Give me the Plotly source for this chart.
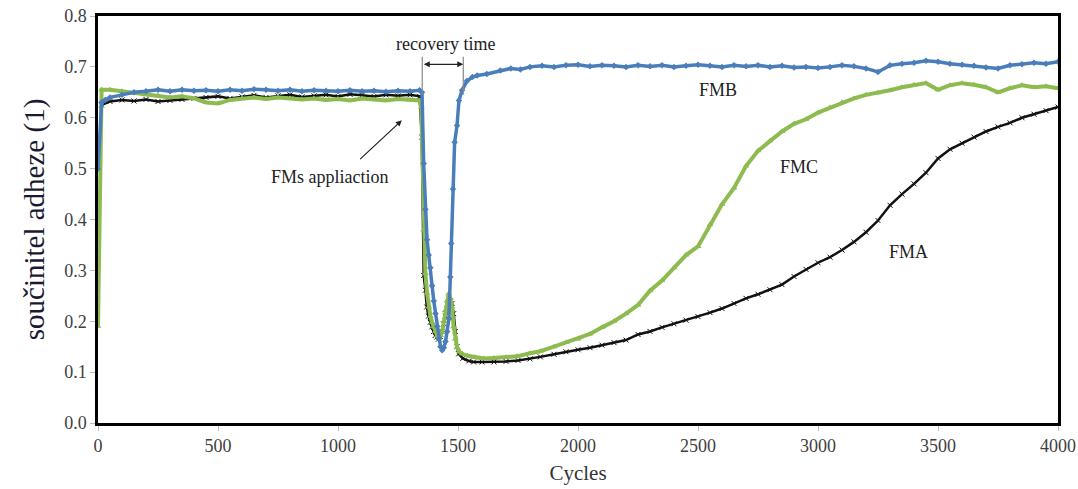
import plotly.graph_objects as go

# ---- data ----
fmb_x = [0, 15, 30, 50, 100, 150, 200, 250, 300, 350, 400, 450, 500, 550, 600, 650, 700, 750, 800, 850,
         900, 950, 1000, 1050, 1100, 1150, 1200, 1250, 1300, 1340, 1350, 1357, 1364, 1371, 1378, 1385,
         1392, 1399, 1406, 1413, 1420, 1427, 1434, 1441, 1448, 1455, 1462, 1468, 1472, 1479, 1486, 1496,
         1504, 1517, 1537, 1560, 1580, 1620, 1676, 1720, 1760, 1800, 1850, 1900, 1950, 2000, 2050, 2100,
         2150, 2200, 2250, 2300, 2350, 2400, 2450, 2500, 2550, 2600, 2650, 2700, 2750, 2800, 2850, 2900,
         2950, 3000, 3050, 3100, 3150, 3200, 3250, 3300, 3350, 3400, 3450, 3500, 3550, 3600, 3650, 3700,
         3750, 3800, 3850, 3900, 3950, 4000]
fmb_y = [0.50, 0.63, 0.635, 0.64, 0.645, 0.65, 0.652, 0.655, 0.652, 0.655, 0.653, 0.654, 0.652, 0.655,
         0.653, 0.656, 0.655, 0.653, 0.655, 0.652, 0.654, 0.653, 0.652, 0.654, 0.652, 0.653, 0.651, 0.653,
         0.652, 0.654, 0.65, 0.51, 0.42, 0.36, 0.33, 0.305, 0.27, 0.24, 0.215, 0.19, 0.165, 0.15, 0.143,
         0.148, 0.16, 0.18, 0.205, 0.287, 0.353, 0.46, 0.552, 0.585, 0.634, 0.654, 0.672, 0.68, 0.683,
         0.686, 0.693, 0.697, 0.695, 0.700, 0.702, 0.700, 0.703, 0.704, 0.701, 0.703, 0.702, 0.700, 0.703,
         0.701, 0.703, 0.700, 0.702, 0.704, 0.702, 0.700, 0.703, 0.701, 0.703, 0.700, 0.702, 0.699, 0.700,
         0.698, 0.700, 0.703, 0.701, 0.697, 0.690, 0.703, 0.706, 0.708, 0.712, 0.710, 0.706, 0.704, 0.702,
         0.699, 0.697, 0.703, 0.705, 0.708, 0.706, 0.710]

fmc_x = [0, 15, 50, 100, 150, 200, 250, 300, 350, 400, 450, 500, 550, 600, 650, 700, 750, 800, 850, 900,
         950, 1000, 1050, 1100, 1150, 1200, 1250, 1300, 1340, 1347, 1357, 1364, 1371, 1378, 1385, 1392,
         1399, 1406, 1413, 1420, 1427, 1434, 1441, 1447, 1454, 1461, 1468, 1475, 1482, 1489, 1496, 1506,
         1517, 1540, 1570, 1607, 1650, 1700, 1746, 1800, 1843, 1900, 1950, 2000, 2050, 2100, 2150, 2200,
         2250, 2300, 2350, 2400, 2450, 2500, 2550, 2600, 2650, 2700, 2750, 2800, 2850, 2900, 2950, 3000,
         3050, 3100, 3150, 3200, 3250, 3300, 3350, 3400, 3450, 3500, 3550, 3600, 3650, 3700, 3750, 3800,
         3850, 3900, 3950, 4000]
fmc_y = [0.19, 0.655, 0.655, 0.652, 0.648, 0.645, 0.643, 0.640, 0.642, 0.638, 0.630, 0.628, 0.635, 0.638,
         0.640, 0.637, 0.640, 0.638, 0.636, 0.638, 0.635, 0.637, 0.634, 0.638, 0.636, 0.634, 0.637, 0.635,
         0.634, 0.62, 0.38, 0.294, 0.255, 0.228, 0.21, 0.198, 0.189, 0.18, 0.172, 0.169, 0.172, 0.178, 0.2,
         0.221, 0.24, 0.254, 0.245, 0.228, 0.189, 0.165, 0.149, 0.14, 0.136, 0.132, 0.129, 0.127, 0.128,
         0.129, 0.131, 0.137, 0.141, 0.15, 0.158, 0.165, 0.175, 0.188, 0.2, 0.215, 0.232, 0.26, 0.28, 0.305,
         0.33, 0.347, 0.39, 0.43, 0.462, 0.505, 0.535, 0.555, 0.573, 0.588, 0.597, 0.61, 0.62, 0.63, 0.638,
         0.645, 0.649, 0.654, 0.66, 0.665, 0.668, 0.655, 0.664, 0.668, 0.665, 0.66, 0.65, 0.658, 0.664,
         0.66, 0.662, 0.658]

fma_x = [15, 50, 100, 150, 200, 250, 300, 350, 400, 450, 500, 550, 600, 650, 700, 750, 800, 850, 900, 950,
         1000, 1050, 1100, 1150, 1200, 1250, 1300, 1340, 1349, 1357, 1364, 1370, 1377, 1384, 1391, 1398,
         1405, 1412, 1419, 1426, 1433, 1440, 1447, 1454, 1461, 1468, 1475, 1482, 1489, 1496, 1503, 1520,
         1545, 1565, 1600, 1650, 1700, 1750, 1800, 1843, 1900, 1950, 2000, 2050, 2100, 2150, 2200, 2250,
         2300, 2350, 2400, 2450, 2500, 2550, 2600, 2650, 2700, 2750, 2800, 2850, 2900, 2950, 3000, 3050,
         3100, 3150, 3200, 3250, 3300, 3350, 3400, 3450, 3500, 3550, 3600, 3650, 3700, 3750, 3800, 3850,
         3900, 3950, 4000]
fma_y = [0.625, 0.632, 0.635, 0.633, 0.636, 0.632, 0.634, 0.636, 0.638, 0.640, 0.642, 0.638, 0.641, 0.644,
         0.640, 0.643, 0.645, 0.641, 0.643, 0.645, 0.642, 0.646, 0.644, 0.642, 0.645, 0.643, 0.645, 0.642,
         0.562, 0.29, 0.261, 0.228, 0.21, 0.198, 0.189, 0.18, 0.172, 0.169, 0.165, 0.17, 0.18, 0.195, 0.21,
         0.225, 0.235, 0.24, 0.235, 0.215, 0.18, 0.15, 0.136, 0.127, 0.122, 0.12, 0.12, 0.12, 0.121, 0.123,
         0.126, 0.13, 0.135, 0.14, 0.144, 0.148, 0.153, 0.158, 0.163, 0.174, 0.18, 0.188, 0.195, 0.202,
         0.209, 0.217, 0.225, 0.235, 0.245, 0.253, 0.262, 0.272, 0.288, 0.302, 0.315, 0.326, 0.34, 0.356,
         0.375, 0.398, 0.428, 0.45, 0.47, 0.492, 0.52, 0.538, 0.55, 0.562, 0.573, 0.582, 0.59, 0.6, 0.607,
         0.614, 0.621]

x_ticks = [0, 500, 1000, 1500, 2000, 2500, 3000, 3500, 4000]
y_ticks = [0.0, 0.1, 0.2, 0.3, 0.4, 0.5, 0.6, 0.7, 0.8]

BLUE = "#4a7ebb"
GREEN = "#8dbb4f"
BLACK = "#111111"
SERIF = "Liberation Serif, Times New Roman, serif"

fig = go.Figure()
fig.add_trace(go.Scatter(x=fma_x, y=fma_y, mode="lines+markers", name="FMA",
                         line=dict(color=BLACK, width=2.5),
                         marker=dict(symbol="x-thin", size=5, line=dict(color=BLACK, width=1))))
fig.add_trace(go.Scatter(x=fmc_x, y=fmc_y, mode="lines+markers", name="FMC",
                         line=dict(color=GREEN, width=4),
                         marker=dict(symbol="triangle-up", size=6, color=GREEN)))
fig.add_trace(go.Scatter(x=fmb_x, y=fmb_y, mode="lines+markers", name="FMB",
                         line=dict(color=BLUE, width=3.5),
                         marker=dict(symbol="diamond", size=5, color=BLUE)))

# recovery time bracket
for xv in [1351, 1522]:
    fig.add_shape(type="line", x0=xv, x1=xv, y0=0.645, y1=0.72, xref="x", yref="y",
                  line=dict(color="#888888", width=1.2))
fig.add_annotation(x=1522, y=0.705, ax=1351, ay=0.705, xref="x", yref="y", axref="x", ayref="y",
                   text="", showarrow=True, arrowhead=2, arrowside="end+start", arrowsize=1,
                   arrowwidth=1.2, arrowcolor="#222222")
fig.add_annotation(x=1447, y=0.744, text="recovery time", showarrow=False,
                   font=dict(family=SERIF, size=18, color="#222222"))

# FMs application arrow
fig.add_annotation(x=1266, y=0.595, ax=1086, ay=0.516, xref="x", yref="y", axref="x", ayref="y",
                   text="", showarrow=True, arrowhead=2, arrowsize=1, arrowwidth=1.2,
                   arrowcolor="#222222")
fig.add_annotation(x=967, y=0.483, text="FMs appliaction", showarrow=False,
                   font=dict(family=SERIF, size=18, color="#222222"))

for txt, xv, yv in [("FMB", 2585, 0.654), ("FMC", 2919, 0.503), ("FMA", 3378, 0.337)]:
    fig.add_annotation(x=xv, y=yv, text=txt, showarrow=False,
                       font=dict(family=SERIF, size=18, color="#222222"))

fig.update_layout(
    width=1078, height=489,
    margin=dict(l=98, r=20, t=16, b=66),
    paper_bgcolor="white", plot_bgcolor="white",
    showlegend=False,
    font=dict(family=SERIF, color="#404040"),
)
fig.update_xaxes(range=[0, 4000], tickvals=x_ticks, ticktext=[str(v) for v in x_ticks],
                 automargin=False,
                 showgrid=False, zeroline=False, showline=True, linecolor="black", linewidth=2.5,
                 mirror=True, ticks="outside", tickcolor="#bbbbbb", ticklen=5,
                 tickfont=dict(family=SERIF, size=18, color="#404040"),
                 title=dict(text="Cycles", font=dict(family=SERIF, size=21, color="#333333"), standoff=10))
fig.update_yaxes(range=[0, 0.8], tickvals=y_ticks, ticktext=[f"{v:.1f}" for v in y_ticks],
                 automargin=False,
                 showgrid=False, zeroline=False, showline=True, linecolor="black", linewidth=2.5,
                 mirror=True, ticks="outside", tickcolor="#bbbbbb", ticklen=5,
                 tickfont=dict(family=SERIF, size=18, color="#404040"),
                 title=dict(text="součinitel adheze (1)", font=dict(family=SERIF, size=29, color="#1a1a33"),
                            standoff=12))

fig.write_html("out.html")
